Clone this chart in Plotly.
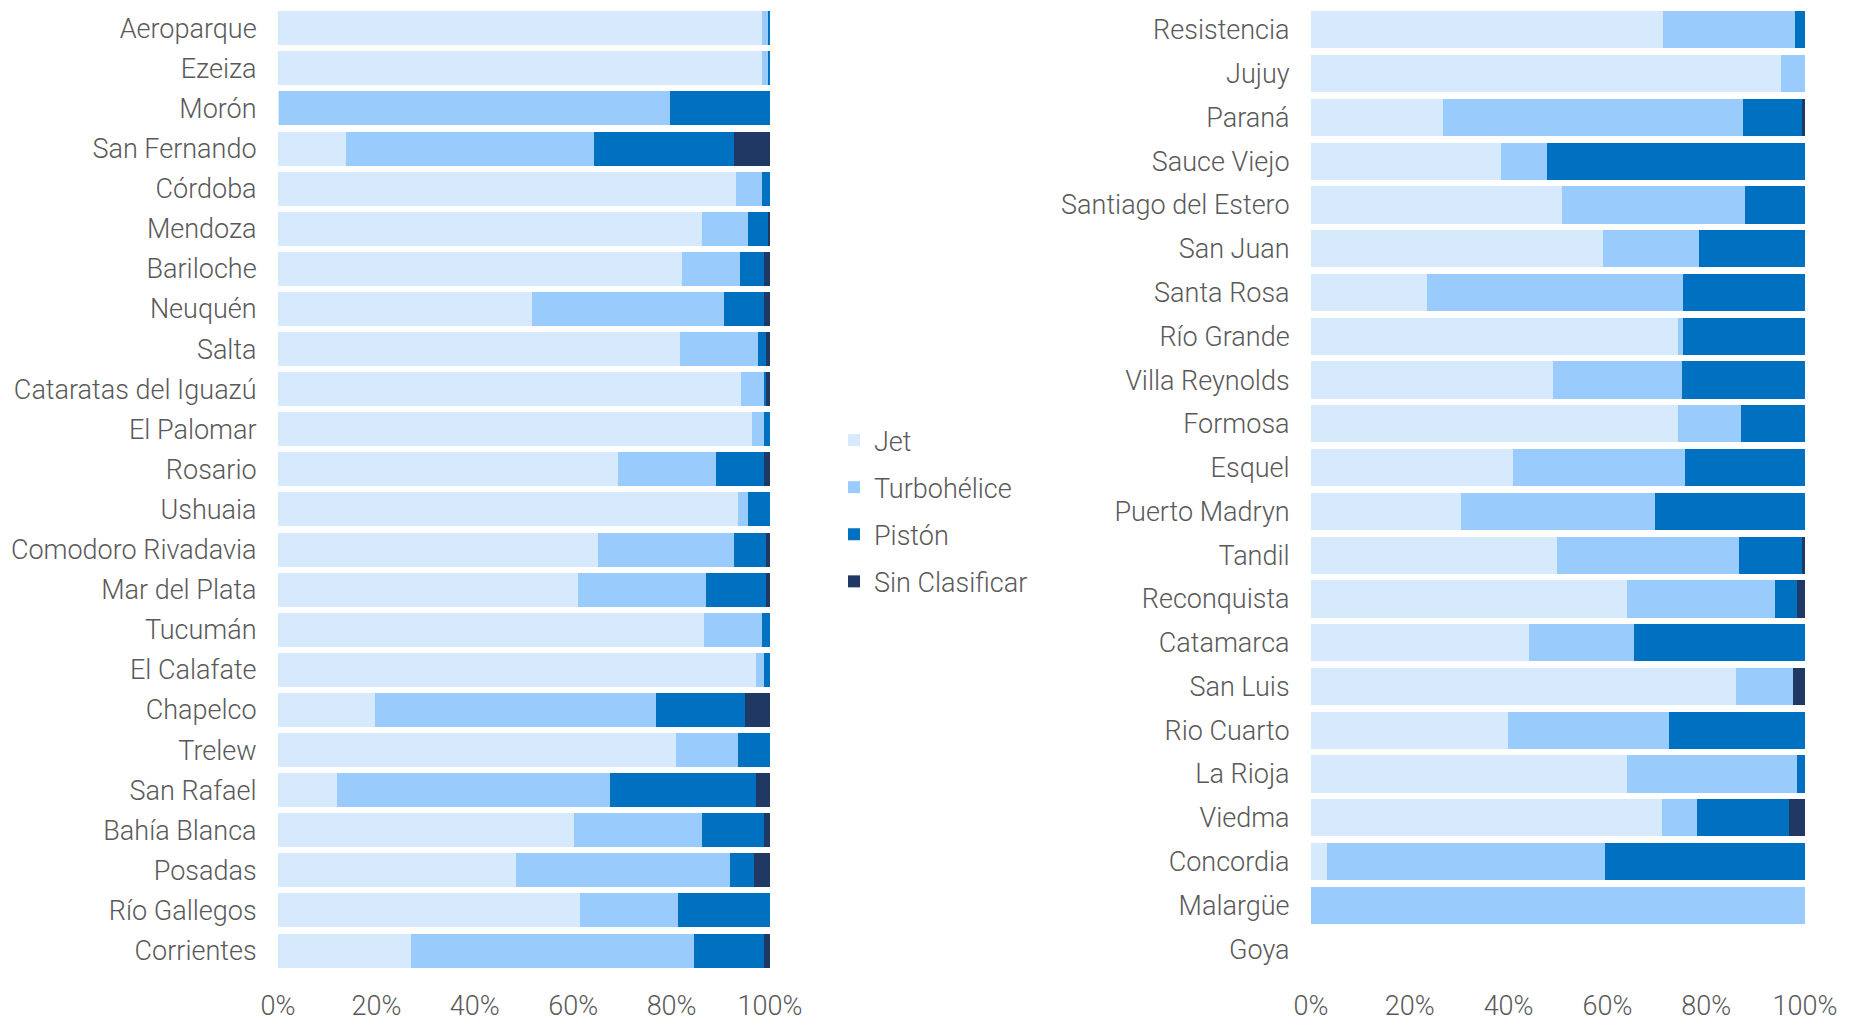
import plotly.graph_objects as go

series_names = ["Jet", "Turbohélice", "Pistón", "Sin Clasificar"]
series_colors = ["#D6E9FD", "#99CBFD", "#0070C0", "#203864"]

left_airports = ["Aeroparque", "Ezeiza", "Morón", "San Fernando", "Córdoba", "Mendoza",
                 "Bariloche", "Neuquén", "Salta", "Cataratas del Iguazú", "El Palomar",
                 "Rosario", "Ushuaia", "Comodoro Rivadavia", "Mar del Plata", "Tucumán",
                 "El Calafate", "Chapelco", "Trelew", "San Rafael", "Bahía Blanca",
                 "Posadas", "Río Gallegos", "Corrientes"]
left_jet = [98.3, 98.3, 0.2, 13.8, 93.0, 86.2, 82.1, 51.7, 81.7, 94.2, 96.4, 69.1, 93.5,
            65.0, 61.0, 86.6, 97.1, 19.8, 80.9, 12.0, 60.1, 48.3, 61.4, 27.1]
left_turbo = [1.2, 1.2, 79.4, 50.4, 5.3, 9.3, 11.8, 39.0, 15.9, 4.6, 2.4, 19.9, 2.0,
              27.7, 26.0, 11.7, 1.6, 57.0, 12.6, 55.5, 26.1, 43.6, 19.9, 57.4]
left_piston = [0.5, 0.5, 20.4, 28.5, 1.7, 4.2, 4.9, 8.1, 1.6, 0.3, 1.2, 9.8, 4.5,
               6.5, 12.2, 1.7, 1.3, 18.2, 6.5, 29.6, 12.6, 4.9, 18.7, 14.3]
left_sin = [0.0, 0.0, 0.0, 7.3, 0.0, 0.3, 1.2, 1.2, 0.8, 0.9, 0.0, 1.2, 0.0,
            0.8, 0.8, 0.0, 0.0, 5.0, 0.0, 2.9, 1.2, 3.2, 0.0, 1.2]

right_airports = ["Resistencia", "Jujuy", "Paraná", "Sauce Viejo", "Santiago del Estero",
                  "San Juan", "Santa Rosa", "Río Grande", "Villa Reynolds", "Formosa",
                  "Esquel", "Puerto Madryn", "Tandil", "Reconquista", "Catamarca",
                  "San Luis", "Rio Cuarto", "La Rioja", "Viedma", "Concordia",
                  "Malargüe", "Goya"]
right_jet = [71.3, 95.2, 26.7, 38.4, 50.9, 59.1, 23.5, 74.2, 49.0, 74.2, 40.8, 30.4,
             49.8, 63.9, 44.1, 86.0, 39.8, 63.9, 71.0, 3.2, 0.0, 0.0]
right_turbo = [26.7, 4.8, 60.8, 9.3, 37.0, 19.4, 51.9, 1.2, 26.0, 12.9, 35.0, 39.3,
               36.9, 30.1, 21.2, 11.6, 32.7, 34.4, 7.2, 56.4, 100.0, 0.0]
right_piston = [2.0, 0.0, 11.8, 52.3, 12.1, 21.5, 24.6, 24.6, 25.0, 12.9, 24.2, 30.3,
                12.6, 4.3, 34.7, 0.0, 27.5, 1.7, 18.5, 40.4, 0.0, 0.0]
right_sin = [0.0, 0.0, 0.7, 0.0, 0.0, 0.0, 0.0, 0.0, 0.0, 0.0, 0.0, 0.0,
             0.7, 1.7, 0.0, 2.4, 0.0, 0.0, 3.3, 0.0, 0.0, 0.0]

x_ticks = [0, 20, 40, 60, 80, 100]
x_ticktext = ["0%", "20%", "40%", "60%", "80%", "100%"]

# The page body has an 8px default margin; size the figure to fit the window.
OFF = 8
W, H = 1849 - OFF, 1024 - OFF
text_color = "#595959"
font_family = "Roboto, 'Open Sans', sans-serif"


def px_x(p):
    return (p - OFF) / W


def px_y(p):
    return 1 - (p - OFF) / H


fig = go.Figure()

left_vals = [left_jet, left_turbo, left_piston, left_sin]
right_vals = [right_jet, right_turbo, right_piston, right_sin]

for i, name in enumerate(series_names):
    fig.add_trace(go.Bar(
        y=left_airports, x=left_vals[i], orientation="h", name=name,
        marker=dict(color=series_colors[i], line=dict(width=0)),
        legendgroup=name, showlegend=True, xaxis="x", yaxis="y",
        hoverinfo="y+x+name"))
for i, name in enumerate(series_names):
    fig.add_trace(go.Bar(
        y=right_airports, x=right_vals[i], orientation="h", name=name,
        marker=dict(color=series_colors[i], line=dict(width=0)),
        legendgroup=name, showlegend=False, xaxis="x2", yaxis="y2",
        hoverinfo="y+x+name"))

tickfont_y = dict(family=font_family, size=27, color=text_color, weight=300)
tickfont_x = dict(family=font_family, size=27, color=text_color, weight=300)

common_x = dict(range=[0, 100], tickvals=x_ticks, ticktext=x_ticktext,
                showgrid=False, zeroline=False, showline=False,
                ticks="outside", ticklen=11, tickcolor="rgba(0,0,0,0)",
                tickfont=tickfont_x, automargin=False, fixedrange=True)
common_y = dict(type="category", autorange="reversed", showgrid=False,
                zeroline=False, showline=False, ticks="outside", ticklen=15,
                tickcolor="rgba(0,0,0,0)", tickfont=tickfont_y,
                automargin=False, fixedrange=True)

fig.update_layout(
    width=W, height=H,
    template="none",
    barmode="stack",
    bargap=0.15,
    paper_bgcolor="white",
    plot_bgcolor="white",
    margin=dict(l=0, r=0, t=0, b=0),
    font=dict(family=font_family, color=text_color),
    xaxis=dict(domain=[px_x(278), px_x(770)], anchor="y", **common_x),
    yaxis=dict(domain=[px_y(970.6), px_y(8.2)], anchor="x", **common_y),
    xaxis2=dict(domain=[px_x(1311), px_x(1805)], anchor="y2", **common_x),
    yaxis2=dict(domain=[px_y(971), px_y(OFF)], anchor="x2", **common_y),
    legend=dict(x=px_x(834), xanchor="left", y=px_y(511), yanchor="middle",
                font=dict(family=font_family, size=27, color=text_color, weight=300),
                traceorder="grouped", tracegroupgap=9, bgcolor="rgba(0,0,0,0)",
                borderwidth=0),
    showlegend=True,
)

fig.write_html("out.html")
